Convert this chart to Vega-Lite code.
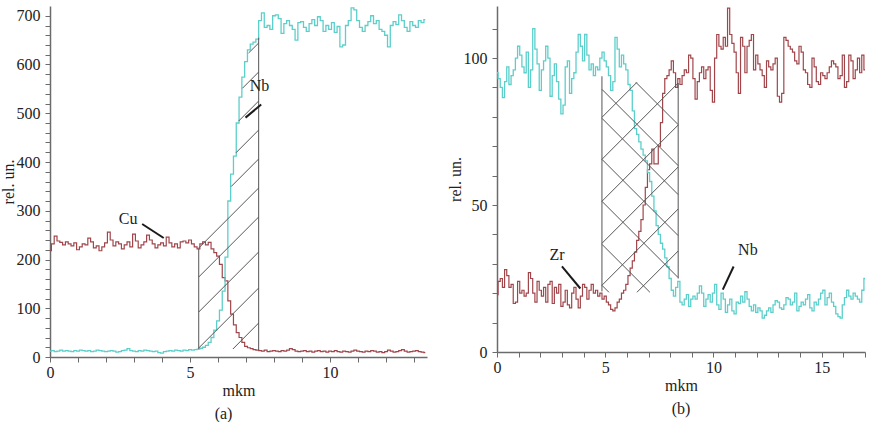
{
  "$schema": "https://vega.github.io/schema/vega-lite/v6.json",
  "padding": {"left": 0, "top": 5, "right": 3, "bottom": 0},
  "spacing": 19,
  "background": "white",
  "config": {
    "view": {"stroke": null},
    "axis": {
      "grid": false,
      "domainColor": "#6b6b6b",
      "domainWidth": 1.5,
      "tickColor": "#6b6b6b",
      "tickSize": 5,
      "labelFont": "Liberation Serif, Times New Roman, serif",
      "labelFontSize": 16,
      "labelColor": "#222222",
      "labelFlush": false,
      "labelOverlap": false,
      "titleFont": "Liberation Serif, Times New Roman, serif",
      "titleFontSize": 16,
      "titleFontWeight": "normal",
      "titleColor": "#222222"
    },
    "axisX": {"labelPadding": 2, "titlePadding": 2},
    "axisY": {"labelPadding": 5, "titlePadding": 0},
    "title": {"font": "Liberation Serif, Times New Roman, serif", "fontSize": 16, "fontWeight": "normal", "color": "#222222"}
  },
  "datasets": {
    "a_cu": [
      {"x":0,"v":218},{"x":0.1,"v":232},{"x":0.2,"v":248},{"x":0.3,"v":238},{"x":0.4,"v":235},{"x":0.5,"v":230},{"x":0.6,"v":236},{"x":0.7,"v":232},{"x":0.8,"v":228},{"x":0.9,"v":234},
      {"x":1,"v":220},{"x":1.1,"v":226},{"x":1.2,"v":232},{"x":1.3,"v":230},{"x":1.4,"v":244},{"x":1.5,"v":236},{"x":1.6,"v":224},{"x":1.7,"v":228},{"x":1.8,"v":218},{"x":1.9,"v":226},
      {"x":2,"v":234},{"x":2.1,"v":256},{"x":2.2,"v":240},{"x":2.3,"v":228},{"x":2.4,"v":236},{"x":2.5,"v":232},{"x":2.6,"v":222},{"x":2.7,"v":230},{"x":2.8,"v":236},{"x":2.9,"v":226},
      {"x":3,"v":252},{"x":3.1,"v":238},{"x":3.2,"v":224},{"x":3.3,"v":230},{"x":3.4,"v":236},{"x":3.5,"v":250},{"x":3.6,"v":240},{"x":3.7,"v":232},{"x":3.8,"v":224},{"x":3.9,"v":230},
      {"x":4,"v":234},{"x":4.1,"v":228},{"x":4.2,"v":246},{"x":4.3,"v":234},{"x":4.4,"v":226},{"x":4.5,"v":232},{"x":4.6,"v":224},{"x":4.7,"v":236},{"x":4.8,"v":238},{"x":4.9,"v":234},
      {"x":5,"v":240},{"x":5.1,"v":232},{"x":5.2,"v":226},{"x":5.3,"v":222},{"x":5.4,"v":232},{"x":5.5,"v":236},{"x":5.6,"v":230},{"x":5.7,"v":235},{"x":5.8,"v":222},{"x":5.9,"v":214},
      {"x":6,"v":207},{"x":6.1,"v":190},{"x":6.2,"v":163},{"x":6.3,"v":156},{"x":6.4,"v":115},{"x":6.5,"v":88},{"x":6.6,"v":66},{"x":6.7,"v":50},{"x":6.8,"v":40},{"x":6.9,"v":30},
      {"x":7,"v":22},{"x":7.1,"v":19},{"x":7.2,"v":17},{"x":7.3,"v":15},{"x":7.4,"v":14},{"x":7.5,"v":13},{"x":7.6,"v":12},{"x":7.7,"v":14},{"x":7.8,"v":11},{"x":7.9,"v":12},
      {"x":8,"v":13},{"x":8.1,"v":12},{"x":8.2,"v":11},{"x":8.3,"v":13},{"x":8.4,"v":12},{"x":8.5,"v":14},{"x":8.6,"v":17},{"x":8.7,"v":15},{"x":8.8,"v":12},{"x":8.9,"v":11},
      {"x":9,"v":12},{"x":9.1,"v":13},{"x":9.2,"v":11},{"x":9.3,"v":12},{"x":9.4,"v":10},{"x":9.5,"v":12},{"x":9.6,"v":13},{"x":9.7,"v":11},{"x":9.8,"v":12},{"x":9.9,"v":10},
      {"x":10,"v":12},{"x":10.1,"v":11},{"x":10.2,"v":13},{"x":10.3,"v":11},{"x":10.4,"v":10},{"x":10.5,"v":12},{"x":10.6,"v":11},{"x":10.7,"v":10},{"x":10.8,"v":12},{"x":10.9,"v":14},
      {"x":11,"v":12},{"x":11.1,"v":11},{"x":11.2,"v":10},{"x":11.3,"v":12},{"x":11.4,"v":11},{"x":11.5,"v":13},{"x":11.6,"v":12},{"x":11.7,"v":10},{"x":11.8,"v":11},{"x":11.9,"v":9},
      {"x":12,"v":11},{"x":12.1,"v":14},{"x":12.2,"v":12},{"x":12.3,"v":10},{"x":12.4,"v":11},{"x":12.5,"v":13},{"x":12.6,"v":15},{"x":12.7,"v":12},{"x":12.8,"v":10},{"x":12.9,"v":11},
      {"x":13,"v":12},{"x":13.1,"v":13},{"x":13.2,"v":11},{"x":13.3,"v":10},{"x":13.4,"v":9}
    ],
    "a_nb": [
      {"x":0,"v":12},{"x":0.1,"v":13},{"x":0.2,"v":11},{"x":0.3,"v":12},{"x":0.4,"v":14},{"x":0.5,"v":12},{"x":0.6,"v":13},{"x":0.7,"v":12},{"x":0.8,"v":11},{"x":0.9,"v":13},
      {"x":1,"v":12},{"x":1.1,"v":14},{"x":1.2,"v":13},{"x":1.3,"v":12},{"x":1.4,"v":13},{"x":1.5,"v":11},{"x":1.6,"v":12},{"x":1.7,"v":14},{"x":1.8,"v":13},{"x":1.9,"v":12},
      {"x":2,"v":11},{"x":2.1,"v":12},{"x":2.2,"v":13},{"x":2.3,"v":12},{"x":2.4,"v":10},{"x":2.5,"v":11},{"x":2.6,"v":13},{"x":2.7,"v":14},{"x":2.8,"v":17},{"x":2.9,"v":13},
      {"x":3,"v":12},{"x":3.1,"v":11},{"x":3.2,"v":13},{"x":3.3,"v":12},{"x":3.4,"v":14},{"x":3.5,"v":13},{"x":3.6,"v":12},{"x":3.7,"v":11},{"x":3.8,"v":12},{"x":3.9,"v":9},
      {"x":4,"v":8},{"x":4.1,"v":11},{"x":4.2,"v":12},{"x":4.3,"v":13},{"x":4.4,"v":12},{"x":4.5,"v":14},{"x":4.6,"v":13},{"x":4.7,"v":12},{"x":4.8,"v":14},{"x":4.9,"v":13},
      {"x":5,"v":15},{"x":5.1,"v":14},{"x":5.2,"v":15},{"x":5.3,"v":16},{"x":5.4,"v":18},{"x":5.5,"v":20},{"x":5.6,"v":24},{"x":5.7,"v":30},{"x":5.8,"v":40},{"x":5.9,"v":55},
      {"x":6,"v":74},{"x":6.1,"v":96},{"x":6.2,"v":135},{"x":6.3,"v":205},{"x":6.4,"v":320},{"x":6.5,"v":375},{"x":6.6,"v":412},{"x":6.7,"v":480},{"x":6.8,"v":533},{"x":6.9,"v":574},
      {"x":7,"v":606},{"x":7.1,"v":630},{"x":7.2,"v":642},{"x":7.3,"v":646},{"x":7.4,"v":652},{"x":7.5,"v":690},{"x":7.6,"v":706},{"x":7.7,"v":676},{"x":7.8,"v":680},{"x":7.9,"v":672},
      {"x":8,"v":700},{"x":8.1,"v":702},{"x":8.2,"v":694},{"x":8.3,"v":664},{"x":8.4,"v":684},{"x":8.5,"v":690},{"x":8.6,"v":680},{"x":8.7,"v":672},{"x":8.8,"v":650},{"x":8.9,"v":686},
      {"x":9,"v":688},{"x":9.1,"v":676},{"x":9.2,"v":668},{"x":9.3,"v":684},{"x":9.4,"v":692},{"x":9.5,"v":680},{"x":9.6,"v":698},{"x":9.7,"v":690},{"x":9.8,"v":668},{"x":9.9,"v":680},
      {"x":10,"v":672},{"x":10.1,"v":686},{"x":10.2,"v":666},{"x":10.3,"v":678},{"x":10.4,"v":636},{"x":10.5,"v":640},{"x":10.6,"v":680},{"x":10.7,"v":690},{"x":10.8,"v":716},{"x":10.9,"v":712},
      {"x":11,"v":690},{"x":11.1,"v":676},{"x":11.2,"v":668},{"x":11.3,"v":680},{"x":11.4,"v":688},{"x":11.5,"v":700},{"x":11.6,"v":684},{"x":11.7,"v":690},{"x":11.8,"v":672},{"x":11.9,"v":668},
      {"x":12,"v":660},{"x":12.1,"v":636},{"x":12.2,"v":680},{"x":12.3,"v":688},{"x":12.4,"v":682},{"x":12.5,"v":702},{"x":12.6,"v":690},{"x":12.7,"v":676},{"x":12.8,"v":668},{"x":12.9,"v":688},
      {"x":13,"v":680},{"x":13.1,"v":676},{"x":13.2,"v":690},{"x":13.3,"v":686},{"x":13.4,"v":692}
    ],
    "a_hatch": [
      {"x":7.09,"v":623.6,"x2":7.45,"v2":644.1},
      {"x":6.87,"v":551.2,"x2":7.45,"v2":584.6},
      {"x":6.73,"v":483.7,"x2":7.45,"v2":525.1},
      {"x":6.64,"v":418.9,"x2":7.45,"v2":465.6},
      {"x":6.47,"v":349.7,"x2":7.45,"v2":406.2},
      {"x":5.31,"v":223.6,"x2":7.45,"v2":346.7},
      {"x":5.31,"v":164.1,"x2":7.45,"v2":287.2},
      {"x":5.31,"v":92.3,"x2":7.45,"v2":215.4},
      {"x":5.31,"v":18.5,"x2":7.45,"v2":141.5},
      {"x":6.53,"v":16.4,"x2":7.45,"v2":69.7},
      {"x":5.31,"v":16,"x2":5.31,"v2":222},
      {"x":7.45,"v":14,"x2":7.45,"v2":655}
    ],
    "a_lead": [
      {"x":3.29,"v":272.8,"x2":4.06,"v2":244.1},
      {"x":7.54,"v":518,"x2":6.98,"v2":491}
    ],
    "a_text": [
      {"x":2.79,"v":283,"t":"Cu"},
      {"x":7.48,"v":556,"t":"Nb"}
    ],
    "b_zr": [
      {"x":0,"v":19.5},{"x":0.1,"v":24},{"x":0.2,"v":25},{"x":0.3,"v":22},{"x":0.4,"v":28},{"x":0.5,"v":26},{"x":0.6,"v":22},{"x":0.7,"v":23},{"x":0.8,"v":16.5},{"x":0.9,"v":17},
      {"x":1,"v":24},{"x":1.1,"v":20},{"x":1.2,"v":21},{"x":1.3,"v":19},{"x":1.4,"v":20},{"x":1.5,"v":27},{"x":1.6,"v":25},{"x":1.7,"v":20},{"x":1.8,"v":17},{"x":1.9,"v":24},
      {"x":2,"v":21},{"x":2.1,"v":19},{"x":2.2,"v":22},{"x":2.3,"v":17},{"x":2.4,"v":23},{"x":2.5,"v":24},{"x":2.6,"v":16.5},{"x":2.7,"v":22},{"x":2.8,"v":20},{"x":2.9,"v":23},
      {"x":3,"v":15.5},{"x":3.1,"v":17},{"x":3.2,"v":21},{"x":3.3,"v":16},{"x":3.4,"v":15},{"x":3.5,"v":20},{"x":3.6,"v":22},{"x":3.7,"v":18},{"x":3.8,"v":15},{"x":3.9,"v":19},
      {"x":4,"v":23},{"x":4.1,"v":22},{"x":4.2,"v":18},{"x":4.3,"v":21},{"x":4.4,"v":23},{"x":4.5,"v":20},{"x":4.6,"v":21},{"x":4.7,"v":19},{"x":4.8,"v":20},{"x":4.9,"v":18},
      {"x":5,"v":19},{"x":5.1,"v":17},{"x":5.2,"v":16},{"x":5.3,"v":14.5},{"x":5.4,"v":14},{"x":5.5,"v":15},{"x":5.6,"v":17},{"x":5.7,"v":18},{"x":5.8,"v":20},{"x":5.9,"v":21},
      {"x":6,"v":23},{"x":6.1,"v":26},{"x":6.2,"v":28.5},{"x":6.3,"v":31},{"x":6.4,"v":34},{"x":6.5,"v":38},{"x":6.6,"v":41},{"x":6.7,"v":45},{"x":6.8,"v":50},{"x":6.9,"v":56},
      {"x":7,"v":62},{"x":7.1,"v":64},{"x":7.2,"v":69},{"x":7.3,"v":64},{"x":7.4,"v":64},{"x":7.5,"v":70},{"x":7.6,"v":78},{"x":7.7,"v":88},{"x":7.8,"v":93},{"x":7.9,"v":94},
      {"x":8,"v":96},{"x":8.1,"v":99},{"x":8.2,"v":95},{"x":8.3,"v":90},{"x":8.4,"v":93},{"x":8.5,"v":91},{"x":8.6,"v":94},{"x":8.7,"v":96},{"x":8.8,"v":95},{"x":8.9,"v":101},
      {"x":9,"v":100},{"x":9.1,"v":93},{"x":9.2,"v":86},{"x":9.3,"v":92},{"x":9.4,"v":95},{"x":9.5,"v":97},{"x":9.6,"v":93},{"x":9.7,"v":96},{"x":9.8,"v":97},{"x":9.9,"v":89},
      {"x":10,"v":85},{"x":10.1,"v":100},{"x":10.2,"v":108},{"x":10.3,"v":104},{"x":10.4,"v":103},{"x":10.5,"v":107},{"x":10.6,"v":104},{"x":10.7,"v":117},{"x":10.8,"v":108},{"x":10.9,"v":105},
      {"x":11,"v":102},{"x":11.1,"v":95},{"x":11.2,"v":88},{"x":11.3,"v":107},{"x":11.4,"v":104},{"x":11.5,"v":95},{"x":11.6,"v":104},{"x":11.7,"v":106},{"x":11.8,"v":108},{"x":11.9,"v":96},
      {"x":12,"v":101},{"x":12.1,"v":98},{"x":12.2,"v":96},{"x":12.3,"v":94},{"x":12.4,"v":90},{"x":12.5,"v":99},{"x":12.6,"v":97},{"x":12.7,"v":96},{"x":12.8,"v":98},{"x":12.9,"v":100},
      {"x":13,"v":87},{"x":13.1,"v":85},{"x":13.2,"v":88},{"x":13.3,"v":107},{"x":13.4,"v":106},{"x":13.5,"v":104},{"x":13.6,"v":103},{"x":13.7,"v":102},{"x":13.8,"v":99},{"x":13.9,"v":98},
      {"x":14,"v":104},{"x":14.1,"v":102},{"x":14.2,"v":96},{"x":14.3,"v":95},{"x":14.4,"v":91},{"x":14.5,"v":90},{"x":14.6,"v":100},{"x":14.7,"v":97},{"x":14.8,"v":92},{"x":14.9,"v":91},
      {"x":15,"v":95},{"x":15.1,"v":94},{"x":15.2,"v":93},{"x":15.3,"v":95},{"x":15.4,"v":97},{"x":15.5,"v":99},{"x":15.6,"v":98},{"x":15.7,"v":97},{"x":15.8,"v":93},{"x":15.9,"v":94},
      {"x":16,"v":101},{"x":16.1,"v":90},{"x":16.2,"v":92},{"x":16.3,"v":101},{"x":16.4,"v":99},{"x":16.5,"v":93},{"x":16.6,"v":96},{"x":16.7,"v":100},{"x":16.8,"v":95},{"x":16.9,"v":101},
      {"x":17,"v":96}
    ],
    "b_nb": [
      {"x":0,"v":95},{"x":0.1,"v":93},{"x":0.2,"v":90},{"x":0.3,"v":86.5},{"x":0.4,"v":92},{"x":0.5,"v":97},{"x":0.6,"v":91},{"x":0.7,"v":94},{"x":0.8,"v":96},{"x":0.9,"v":100},
      {"x":1,"v":104},{"x":1.1,"v":101},{"x":1.2,"v":97},{"x":1.3,"v":95},{"x":1.4,"v":102},{"x":1.5,"v":90},{"x":1.6,"v":96},{"x":1.7,"v":110},{"x":1.8,"v":103},{"x":1.9,"v":98},
      {"x":2,"v":89},{"x":2.1,"v":96},{"x":2.2,"v":99},{"x":2.3,"v":104},{"x":2.4,"v":100},{"x":2.5,"v":87},{"x":2.6,"v":94},{"x":2.7,"v":98},{"x":2.8,"v":92},{"x":2.9,"v":86},
      {"x":3,"v":81},{"x":3.1,"v":84},{"x":3.2,"v":97},{"x":3.3,"v":99},{"x":3.4,"v":88},{"x":3.5,"v":93},{"x":3.6,"v":95},{"x":3.7,"v":102},{"x":3.8,"v":108},{"x":3.9,"v":104},
      {"x":4,"v":99},{"x":4.1,"v":108},{"x":4.2,"v":101},{"x":4.3,"v":96},{"x":4.4,"v":98},{"x":4.5,"v":94},{"x":4.6,"v":97},{"x":4.7,"v":96},{"x":4.8,"v":100},{"x":4.9,"v":102},
      {"x":5,"v":99},{"x":5.1,"v":97},{"x":5.2,"v":94},{"x":5.3,"v":89},{"x":5.4,"v":92},{"x":5.5,"v":107},{"x":5.6,"v":103},{"x":5.7,"v":97},{"x":5.8,"v":101},{"x":5.9,"v":98},
      {"x":6,"v":96},{"x":6.1,"v":91},{"x":6.2,"v":89},{"x":6.3,"v":82},{"x":6.4,"v":76},{"x":6.5,"v":74},{"x":6.6,"v":71.5},{"x":6.7,"v":69},{"x":6.8,"v":67},{"x":6.9,"v":65},
      {"x":7,"v":61},{"x":7.1,"v":58},{"x":7.2,"v":53},{"x":7.3,"v":48},{"x":7.4,"v":43},{"x":7.5,"v":40},{"x":7.6,"v":37},{"x":7.7,"v":35},{"x":7.8,"v":32},{"x":7.9,"v":29},
      {"x":8,"v":25},{"x":8.1,"v":21},{"x":8.2,"v":19},{"x":8.3,"v":22},{"x":8.4,"v":24},{"x":8.5,"v":17},{"x":8.6,"v":16},{"x":8.7,"v":18},{"x":8.8,"v":19.5},{"x":8.9,"v":15.5},
      {"x":9,"v":18},{"x":9.1,"v":19},{"x":9.2,"v":18},{"x":9.3,"v":20},{"x":9.4,"v":22.5},{"x":9.5,"v":20},{"x":9.6,"v":15.5},{"x":9.7,"v":18},{"x":9.8,"v":19.5},{"x":9.9,"v":17},
      {"x":10,"v":20},{"x":10.1,"v":23},{"x":10.2,"v":16},{"x":10.3,"v":14.5},{"x":10.4,"v":20},{"x":10.5,"v":18},{"x":10.6,"v":13.5},{"x":10.7,"v":16},{"x":10.8,"v":18},{"x":10.9,"v":14},
      {"x":11,"v":13},{"x":11.1,"v":17},{"x":11.2,"v":16.5},{"x":11.3,"v":19},{"x":11.4,"v":17},{"x":11.5,"v":20.5},{"x":11.6,"v":18},{"x":11.7,"v":15.5},{"x":11.8,"v":14},{"x":11.9,"v":16},
      {"x":12,"v":13.5},{"x":12.1,"v":15},{"x":12.2,"v":14},{"x":12.3,"v":11.5},{"x":12.4,"v":12.5},{"x":12.5,"v":14},{"x":12.6,"v":15},{"x":12.7,"v":13.5},{"x":12.8,"v":16},{"x":12.9,"v":17.5},
      {"x":13,"v":17},{"x":13.1,"v":15},{"x":13.2,"v":14.5},{"x":13.3,"v":16},{"x":13.4,"v":18.5},{"x":13.5,"v":18},{"x":13.6,"v":16},{"x":13.7,"v":17},{"x":13.8,"v":20},{"x":13.9,"v":14},
      {"x":14,"v":15.5},{"x":14.1,"v":17},{"x":14.2,"v":16},{"x":14.3,"v":18},{"x":14.4,"v":19.5},{"x":14.5,"v":15},{"x":14.6,"v":14},{"x":14.7,"v":17},{"x":14.8,"v":16},{"x":14.9,"v":18},
      {"x":15,"v":20},{"x":15.1,"v":21},{"x":15.2,"v":16},{"x":15.3,"v":18.5},{"x":15.4,"v":20},{"x":15.5,"v":17},{"x":15.6,"v":15.5},{"x":15.7,"v":13},{"x":15.8,"v":12},{"x":15.9,"v":11.5},
      {"x":16,"v":16},{"x":16.1,"v":18.5},{"x":16.2,"v":21},{"x":16.3,"v":19},{"x":16.4,"v":18},{"x":16.5,"v":20},{"x":16.6,"v":19},{"x":16.7,"v":18},{"x":16.8,"v":17},{"x":16.9,"v":21},
      {"x":17,"v":25}
    ],
    "b_hatch": [
      {"x":6.464,"v":91.73,"x2":4.848,"v2":79.83},
      {"x":8.37,"v":91.5,"x2":4.848,"v2":65.54},
      {"x":8.37,"v":77.21,"x2":4.848,"v2":51.26},
      {"x":8.37,"v":62.93,"x2":4.848,"v2":36.97},
      {"x":8.37,"v":48.64,"x2":4.848,"v2":22.69},
      {"x":8.37,"v":34.35,"x2":6.464,"v2":20.31},
      {"x":6.417,"v":91.73,"x2":8.37,"v2":77.35},
      {"x":4.848,"v":89.35,"x2":8.37,"v2":63.4},
      {"x":4.848,"v":79.49,"x2":8.37,"v2":53.54},
      {"x":4.848,"v":65.54,"x2":8.37,"v2":39.59},
      {"x":4.848,"v":51.26,"x2":8.37,"v2":25.31},
      {"x":4.848,"v":36.63,"x2":7.064,"v2":20.31},
      {"x":4.848,"v":22.69,"x2":5.171,"v2":20.31},
      {"x":4.848,"v":20.6,"x2":4.848,"v2":93.8},
      {"x":8.37,"v":25,"x2":8.37,"v2":91.5}
    ],
    "b_lead": [
      {"x":3.0,"v":29.1,"x2":3.85,"v2":21.6},
      {"x":10.93,"v":29.1,"x2":10.43,"v2":21.2}
    ],
    "b_text": [
      {"x":2.77,"v":32.9,"t":"Zr"},
      {"x":11.59,"v":34.6,"t":"Nb"}
    ]
  },
  "hconcat": [
    {
      "width": 377,
      "height": 351,
      "title": {"text": "(a)", "orient": "bottom", "offset": 8, "dx": -15},
      "encoding": {
        "x": {
          "field": "x", "type": "quantitative",
          "scale": {"domain": [0, 13.46], "nice": false, "zero": false},
          "axis": {
            "title": "mkm",
            "values": [0,1,2,3,4,5,6,7,8,9,10,11,12,13],
            "labelExpr": "datum.value % 5 === 0 ? datum.label : ''"
          }
        },
        "y": {
          "field": "v", "type": "quantitative",
          "scale": {"domain": [0, 720], "nice": false},
          "axis": {
            "title": "rel. un.",
            "values": [0,20,40,60,80,100,120,140,160,180,200,220,240,260,280,300,320,340,360,380,400,420,440,460,480,500,520,540,560,580,600,620,640,660,680,700],
            "labelExpr": "datum.value % 100 === 0 ? datum.label : ''"
          }
        }
      },
      "layer": [
        {"data": {"name": "a_cu"}, "mark": {"type": "line", "interpolate": "step", "color": "#a0464b", "strokeWidth": 1.2}},
        {"data": {"name": "a_nb"}, "mark": {"type": "line", "interpolate": "step", "color": "#5dcfcb", "strokeWidth": 1.3}},
        {"data": {"name": "a_hatch"}, "mark": {"type": "rule", "color": "#555555", "strokeWidth": 1}, "encoding": {"x2": {"field": "x2"}, "y2": {"field": "v2"}}},
        {"data": {"name": "a_lead"}, "mark": {"type": "rule", "color": "#1a1a1a", "strokeWidth": 2}, "encoding": {"x2": {"field": "x2"}, "y2": {"field": "v2"}}},
        {"data": {"name": "a_text"}, "mark": {"type": "text", "font": "Liberation Serif, Times New Roman, serif", "fontSize": 16, "color": "#222222"}, "encoding": {"text": {"field": "t"}}}
      ]
    },
    {
      "width": 368,
      "height": 346,
      "title": {"text": "(b)", "orient": "bottom", "offset": 8},
      "encoding": {
        "x": {
          "field": "x", "type": "quantitative",
          "scale": {"domain": [0, 17.0], "nice": false, "zero": false},
          "axis": {
            "title": "mkm",
            "values": [0,1,2,3,4,5,6,7,8,9,10,11,12,13,14,15,16,17],
            "labelExpr": "datum.value % 5 === 0 ? datum.label : ''"
          }
        },
        "y": {
          "field": "v", "type": "quantitative",
          "scale": {"domain": [0, 117.7], "nice": false},
          "axis": {
            "title": "rel. un.",
            "values": [0,10,20,30,40,50,60,70,80,90,100,110],
            "labelExpr": "datum.value % 50 === 0 ? datum.label : ''"
          }
        }
      },
      "layer": [
        {"data": {"name": "b_zr"}, "mark": {"type": "line", "interpolate": "step", "color": "#a0464b", "strokeWidth": 1.2}},
        {"data": {"name": "b_nb"}, "mark": {"type": "line", "interpolate": "step", "color": "#5dcfcb", "strokeWidth": 1.3}},
        {"data": {"name": "b_hatch"}, "mark": {"type": "rule", "color": "#555555", "strokeWidth": 1}, "encoding": {"x2": {"field": "x2"}, "y2": {"field": "v2"}}},
        {"data": {"name": "b_lead"}, "mark": {"type": "rule", "color": "#1a1a1a", "strokeWidth": 2}, "encoding": {"x2": {"field": "x2"}, "y2": {"field": "v2"}}},
        {"data": {"name": "b_text"}, "mark": {"type": "text", "font": "Liberation Serif, Times New Roman, serif", "fontSize": 16, "color": "#222222"}, "encoding": {"text": {"field": "t"}}}
      ]
    }
  ]
}
